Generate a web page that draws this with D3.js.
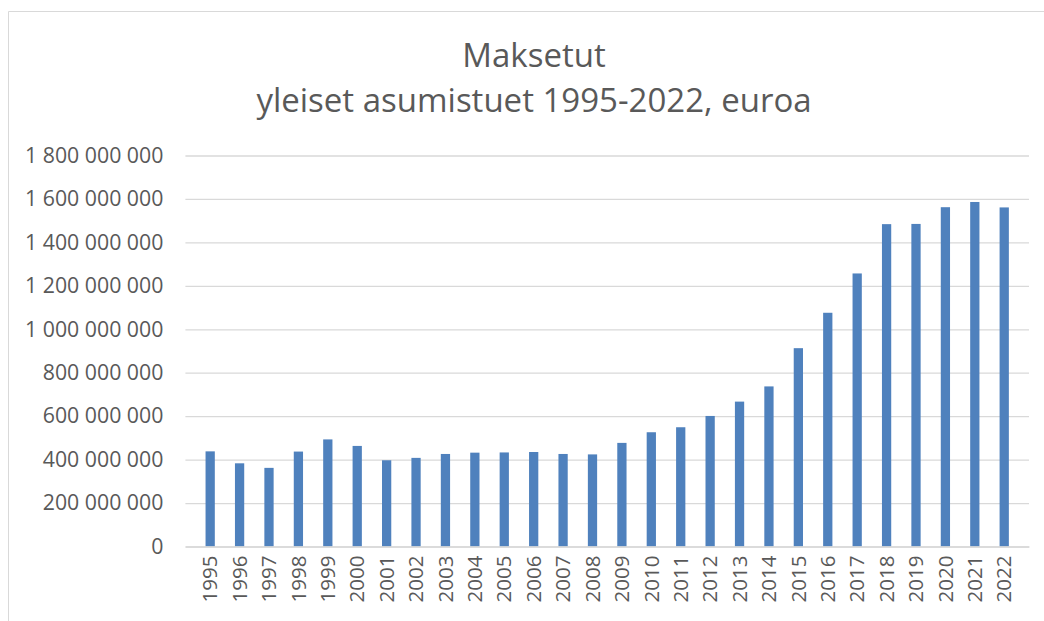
<!DOCTYPE html>
<html lang="fi">
<head>
<meta charset="UTF-8">
<title>Maksetut yleiset asumistuet</title>
<script src="https://cdnjs.cloudflare.com/ajax/libs/d3/7.8.5/d3.min.js"></script>
<style>
	body { margin: 0; background: #fff; }
	svg { display: block; }
	.tick text { fill: #595959; font-family: "Open Sans", sans-serif; }
</style>
</head>
<body>
<div id="chart"></div>
<script>
	const years = ["1995","1996","1997","1998","1999","2000","2001","2002","2003","2004",
		"2005","2006","2007","2008","2009","2010","2011","2012","2013","2014",
		"2015","2016","2017","2018","2019","2020","2021","2022"];
	const paid = [438e6, 383e6, 362e6, 437e6, 493e6, 463e6, 397e6, 408e6, 426e6, 432e6,
		433e6, 435e6, 426e6, 424e6, 477e6, 526e6, 549e6, 601e6, 667e6, 737e6,
		913e6, 1076e6, 1257e6, 1484e6, 1485e6, 1562e6, 1586e6, 1561e6];
	const yTicks = [0, 2e8, 4e8, 6e8, 8e8, 1e9, 1.2e9, 1.4e9, 1.6e9, 1.8e9];
	const titleLines = ["Maksetut", "yleiset asumistuet 1995-2022, euroa"];

	const W = 1044, H = 621;
	const margin = { top: 155.5, right: 15, bottom: 74.5, left: 185.4 };
	const width = W - margin.left - margin.right;
	const height = H - margin.top - margin.bottom;

	const svg = d3.select("#chart").append("svg")
		.attr("width", W).attr("height", H);

	// chart frame (only top and left edges show in the crop)
	svg.append("line").attr("x1", 8.5).attr("x2", W).attr("y1", 11.5).attr("y2", 11.5)
		.attr("stroke", "#d9d9d9");
	svg.append("line").attr("x1", 8.5).attr("x2", 8.5).attr("y1", 11.5).attr("y2", H)
		.attr("stroke", "#d9d9d9");

	svg.append("g").selectAll("text")
		.data(titleLines)
		.enter().append("text")
		.attr("x", 534)
		.attr("y", (d, i) => 67 + i * 45)
		.attr("text-anchor", "middle")
		.attr("fill", "#595959")
		.style("font-family", "'Open Sans', sans-serif")
		.style("font-size", "33px")
		.text(d => d);

	const g = svg.append("g")
		.attr("transform", `translate(${margin.left},${margin.top})`);

	const x = d3.scaleBand().domain(years).range([0, width]).padding(0.685);
	const y = d3.scaleLinear().domain([0, 1.8e9]).range([height, 0]);

	const fmt = v => d3.format(",")(v).replace(/,/g, " ");

	const yAxis = g.append("g")
		.call(d3.axisLeft(y).tickValues(yTicks).tickSize(-width).tickPadding(22).tickFormat(fmt));
	yAxis.select(".domain").remove();
	yAxis.selectAll(".tick line").attr("stroke", "#d9d9d9").attr("stroke-width", 1.3);
	yAxis.selectAll(".tick text").style("font-size", "21.3px");

	g.selectAll(".bar")
		.data(paid)
		.enter().append("rect")
		.attr("class", "bar")
		.attr("x", (d, i) => x(years[i]))
		.attr("width", x.bandwidth())
		.attr("y", d => y(d))
		.attr("height", d => height - y(d))
		.attr("fill", "#4f81bd");

	const xAxis = g.append("g")
		.attr("transform", `translate(0,${height})`)
		.call(d3.axisBottom(x).tickSize(0));
	xAxis.select(".domain").attr("stroke", "#d9d9d9").attr("stroke-width", 1.3);
	xAxis.selectAll(".tick text")
		.style("font-size", "20.5px")
		.attr("transform", "rotate(-90)")
		.attr("text-anchor", "end")
		.attr("x", -9)
		.attr("y", 0)
		.attr("dy", "0.35em");
</script>
</body>
</html>
